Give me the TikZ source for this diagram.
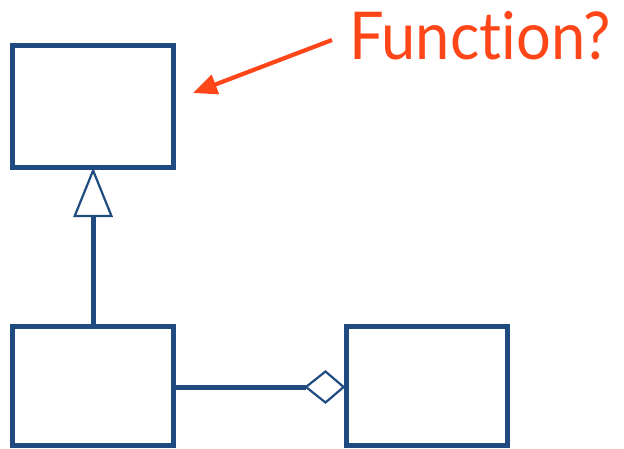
\documentclass[tikz,border=0pt]{standalone}
\usepackage{fontspec}
\setmainfont{Lato}
\newfontfamily\notefont[Ligatures=NoCommon,FakeStretch=0.93]{Lato}
\usetikzlibrary{shapes.geometric,arrows.meta}
\definecolor{umlblue}{RGB}{32,75,128}
\definecolor{noteorange}{RGB}{255,70,24}
\begin{document}
\begin{tikzpicture}[x=1pt,y=-1pt,
  cls/.style={draw=umlblue,line width=5pt,fill=white,inner sep=0pt},
  conn/.style={draw=umlblue,line width=5pt},
  note/.style={text=noteorange,font=\notefont\fontsize{66}{66}\selectfont,inner sep=0pt,anchor=base west}]
\useasboundingbox (0,0) rectangle (624,449);
\node[cls,minimum width=161.7pt,minimum height=122pt] (super) at (93.1,107) {};
\node[cls,minimum width=161.7pt,minimum height=119pt] (sub) at (93.1,385.5) {};
\node[cls,minimum width=161.7pt,minimum height=119pt] (part) at (427,385.5) {};
% generalization
\coordinate (tribase) at (93.1,216);
\draw[conn] (sub.north) -- (tribase);
\draw[umlblue,line width=2.2pt,fill=white,line join=miter] (super.south) -- (111.5,216) -- (74.7,216) -- cycle;
% aggregation
\coordinate (dleft) at (306,387);
\draw[conn] (sub.east |- dleft) -- (dleft);
\draw[umlblue,line width=2.2pt,fill=white] (dleft) -- (325.5,371.5) -- (part.west |- dleft) -- (325.5,402.5) -- cycle;
% note
\node[note] (lbl) at (349,60) {Function?};
\coordinate (tail) at (332,40);
\draw[noteorange,line width=4.2pt,-{Triangle[length=24pt,width=20pt]}] (tail) -- (193,93);
\end{tikzpicture}
\end{document}
